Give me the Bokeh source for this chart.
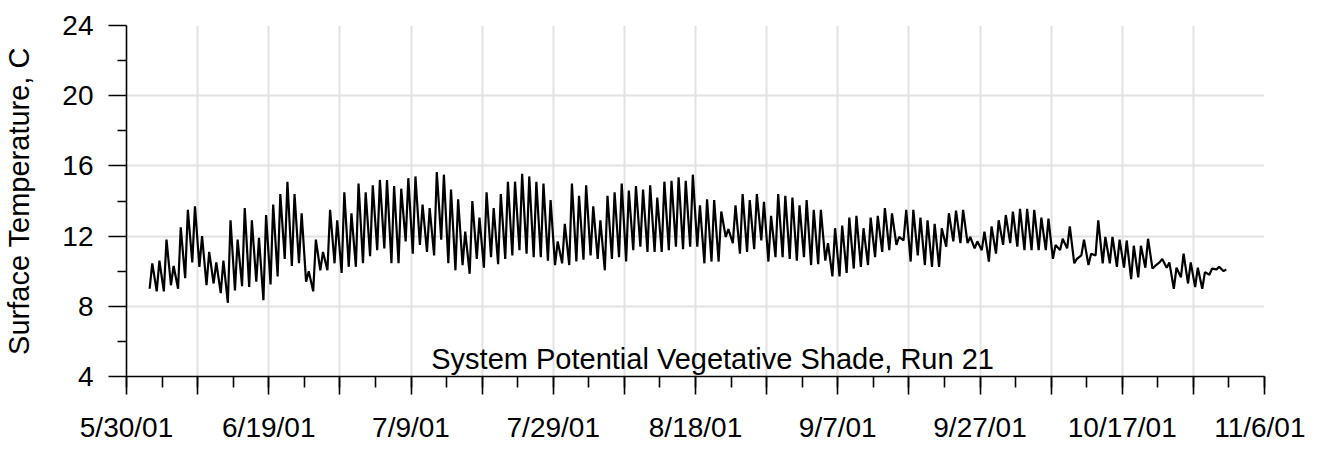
import pandas as pd
from bokeh.plotting import figure
from bokeh.models import ColumnDataSource, Range1d, FixedTicker, Label
from bokeh.embed import file_html
from bokeh.resources import INLINE

# ---------------- data ----------------
start_date = "2001-06-02"          # first day with data
axis_start = "2001-05-30"
axis_end = "2001-11-06"

# daily minimum surface temperature (C), 2001-06-02 .. 2001-10-31
daily_min = [
    9.0, 8.85, 8.85, 9.2, 9.0, 9.6, 10.5, 10.25, 9.2, 9.3, 8.75, 8.2, 8.9, 9.15, 9.1, 9.4,
    8.35, 9.25, 9.7, 10.7, 10.3, 10.45, 9.4,
    8.85, 10.05, 10.05, 10.45, 9.9, 10.25, 10.25, 10.45, 10.85, 11.2, 11.3, 10.45, 10.45,
    11.7, 11.0, 11.5, 11.1, 10.9, 11.8, 10.45, 10.05, 10.35,
    9.85, 10.7, 10.2, 10.8, 10.4, 10.7, 10.9, 11.2, 11.0, 10.8, 10.8, 10.6, 10.35, 10.45,
    10.35, 10.55, 10.65, 10.9, 10.7, 10.05, 10.7, 10.8, 10.55,
    11.2, 11.4, 11.1, 11.1, 11.1, 11.2, 11.4, 11.25, 11.4, 11.4, 10.45, 10.55, 10.55, 11.95,
    11.6, 11.0, 11.1, 11.25, 11.75, 10.55, 10.8, 10.8, 10.7, 10.6,
    10.8, 10.35, 10.4, 10.6, 9.7, 9.7, 9.9, 10.15, 10.25, 10.35, 10.8, 11.1, 11.2, 11.5,
    11.75, 10.55, 10.9, 10.35, 10.25, 10.25, 11.4, 11.7, 11.6,
    11.6, 11.3, 11.2, 10.55, 11.0, 11.5, 11.6, 11.4, 11.2, 11.2, 11.2, 11.2, 10.7, 11.2,
    11.3, 10.45, 10.9, 10.35, 10.9, 10.45, 10.45, 10.25,
    10.2, 9.55, 9.65, 10.2, 10.15, 10.5, 10.2, 9.0, 9.65, 9.3, 9.1, 9.0, 9.8, 10.1, 10.0,
]

# daily maximum surface temperature (C)
daily_max = [
    10.45, 10.6, 11.8, 10.3, 12.5, 13.5, 13.7, 12.0, 11.1, 10.5, 10.6, 12.9, 11.8, 13.6,
    12.9, 11.9, 13.2, 13.8, 14.4, 15.1, 14.4, 13.3, 10.0,
    11.8, 11.1, 13.5, 12.9, 14.5, 13.3, 15.0, 14.5, 14.9, 15.2, 15.2, 14.85, 14.7, 15.3,
    15.4, 13.8, 13.6, 15.65, 15.5, 14.65, 14.1, 12.25,
    14.0, 13.05, 14.5, 13.6, 14.4, 15.1, 15.1, 15.55, 15.4, 15.1, 15.0, 14.05, 11.7, 12.7,
    15.0, 14.3, 14.9, 13.7, 12.9, 14.3, 14.5, 15.0, 14.6,
    14.85, 14.65, 14.9, 14.2, 15.1, 15.15, 15.35, 15.15, 15.5, 13.75, 14.1, 14.05, 13.4,
    12.4, 13.75, 14.4, 14.05, 14.4, 13.95, 13.15, 14.4, 14.3, 14.2, 13.75,
    14.05, 13.5, 13.5, 11.6, 12.45, 12.6, 13.05, 13.15, 12.45, 13.05, 13.15, 13.6, 13.3,
    11.95, 13.5, 13.5, 13.05, 12.9, 12.7, 12.45, 13.3, 13.45, 13.5,
    11.95, 11.7, 12.25, 12.55, 12.9, 13.2, 13.4, 13.55, 13.55, 13.5, 13.05, 13.0, 11.5,
    11.85, 12.55, 10.7, 11.8, 11.0, 12.9, 11.95, 11.95, 11.8,
    11.75, 11.45, 11.45, 11.85, 10.3, 10.7, 10.5, 10.2, 11.0, 10.5, 10.2, 9.95, 10.15,
    10.25, 10.1,
]

x_tick_labels = ["5/30/01", "6/19/01", "7/9/01", "7/29/01", "8/18/01",
                 "9/7/01", "9/27/01", "10/17/01", "11/6/01"]
y_ticks = [4, 8, 12, 16, 20, 24]
y_minor_ticks = [6, 10, 14, 18, 22]

annotation = "System Potential Vegetative Shade, Run 21"
y_title = "Surface Temperature, C"

# ---------------- build series ----------------
t0 = pd.Timestamp(start_date)
xs, ys = [], []
for i, (lo, hi) in enumerate(zip(daily_min, daily_max)):
    day = t0 + pd.Timedelta(days=i)
    xs += [day + pd.Timedelta(hours=6), day + pd.Timedelta(hours=15)]
    ys += [lo, hi]
src = ColumnDataSource(data=dict(x=pd.to_datetime(xs), y=ys))

epoch = pd.Timestamp("1970-01-01")
def ms(ts):
    return float((ts - epoch) / pd.Timedelta(milliseconds=1))

a0 = pd.Timestamp(axis_start)
a1 = pd.Timestamp(axis_end)
n_days = (a1 - a0).days
major = [ms(a0 + pd.Timedelta(days=d)) for d in range(0, n_days + 1, 10)]
minor = [ms(a0 + pd.Timedelta(days=d)) for d in range(0, n_days + 1, 5)]
overrides = {}
for k, v in enumerate(major):
    overrides[v] = x_tick_labels[k // 2] if k % 2 == 0 else ""

FONT = "Liberation Sans"

p = figure(x_axis_type="datetime", output_backend="svg", toolbar_location=None,
           frame_width=1138, frame_height=351,
           min_border_left=126, min_border_right=41,
           min_border_top=25, min_border_bottom=63,
           x_range=Range1d(ms(a0), ms(a1)), y_range=Range1d(4, 24))
p.outline_line_color = None
p.background_fill_color = "white"
p.border_fill_color = "white"

p.line("x", "y", source=src, line_color="black", line_width=2.2,
       line_join="bevel")

# x axis
xa = p.xaxis[0]
xa.ticker = FixedTicker(ticks=major, minor_ticks=minor)
xa.major_label_overrides = overrides
xa.major_tick_out = 18
xa.major_tick_in = 0
xa.minor_tick_out = 11
xa.minor_tick_in = 0
xa.axis_line_color = "black"
xa.axis_line_width = 1.6
xa.major_tick_line_color = "black"
xa.major_tick_line_width = 1.6
xa.minor_tick_line_color = "black"
xa.minor_tick_line_width = 1.6
xa.major_label_text_font = FONT
xa.major_label_text_font_size = "28px"
xa.major_label_text_color = "black"
xa.major_label_standoff = 17

# y axis
ya = p.yaxis[0]
ya.ticker = FixedTicker(ticks=y_ticks, minor_ticks=y_minor_ticks)
ya.major_tick_out = 18
ya.major_tick_in = 0
ya.minor_tick_out = 9
ya.minor_tick_in = 0
ya.axis_line_color = "black"
ya.axis_line_width = 1.6
ya.major_tick_line_color = "black"
ya.major_tick_line_width = 1.6
ya.minor_tick_line_color = "black"
ya.minor_tick_line_width = 1.6
ya.major_label_text_font = FONT
ya.major_label_text_font_size = "28px"
ya.major_label_text_color = "black"
ya.major_label_standoff = 15
ya.axis_label = y_title
ya.axis_label_text_font = FONT
ya.axis_label_text_font_size = "29px"
ya.axis_label_text_font_style = "normal"
ya.axis_label_text_color = "black"
ya.axis_label_standoff = 24

# grid
for g in (p.xgrid[0], p.ygrid[0]):
    g.grid_line_color = "#e2e2e2"
    g.grid_line_width = 2

label_center = a0 + pd.Timedelta(days=82.4)
p.add_layout(Label(x=ms(label_center), y=5.0, text=annotation,
                   text_align="center", text_baseline="alphabetic",
                   text_font=FONT, text_font_size="29px", text_color="black"))

open("out.html", "w").write(file_html(p, INLINE))
